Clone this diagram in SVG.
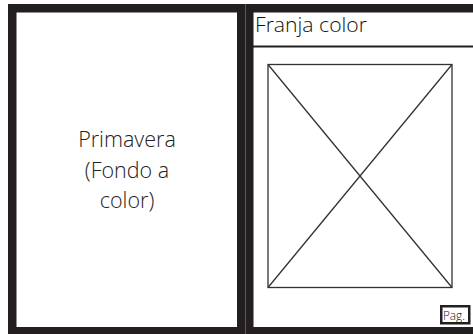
<svg xmlns="http://www.w3.org/2000/svg" width="473" height="334" viewBox="0 0 473 334">
<style>
.page{fill:#ffffff;stroke:#231f20;stroke-width:8.5}
.thin{stroke:#333333;stroke-width:1.3;fill:none}
.t{font-family:"Open Sans","Noto Sans",sans-serif;font-weight:300}
</style>
<rect x="0" y="0" width="473" height="334" fill="#ffffff"/>
<g id="left-page">
<rect class="page" x="12.25" y="8.25" width="229" height="323"/>
<text class="t" x="127" y="147" font-size="21.5" fill="#222222" text-anchor="middle">Primavera</text>
<text class="t" x="127" y="178" font-size="21.5" fill="#222222" text-anchor="middle">(Fondo a</text>
<text class="t" x="127" y="208" font-size="21.5" fill="#222222" text-anchor="middle">color)</text>
</g>
<g id="right-page">
<rect class="page" x="249.25" y="8.25" width="235" height="323"/>
</g>
<line x1="245.5" y1="4" x2="245.5" y2="334" stroke="#5a5a5a" stroke-width="1"/>
<g id="franja">
<line x1="253" y1="46.5" x2="473" y2="46.5" stroke="#231f20" stroke-width="2"/>
<text class="t" x="255" y="32" font-size="20" fill="#111111" textLength="112" lengthAdjust="spacingAndGlyphs">Franja color</text>
</g>
<g id="image-placeholder">
<rect class="thin" x="268" y="64.5" width="184" height="223"/>
<line class="thin" x1="268" y1="64.5" x2="452" y2="287.5"/>
<line class="thin" x1="452" y1="64.5" x2="268" y2="287.5"/>
</g>
<g id="pag">
<rect x="441.25" y="306.25" width="28" height="17" fill="#ffffff" stroke="#231f20" stroke-width="2.5"/>
<text class="t" x="443" y="320" font-size="13.5" fill="#111111" textLength="22" lengthAdjust="spacingAndGlyphs">Pag.</text>
</g>
</svg>
